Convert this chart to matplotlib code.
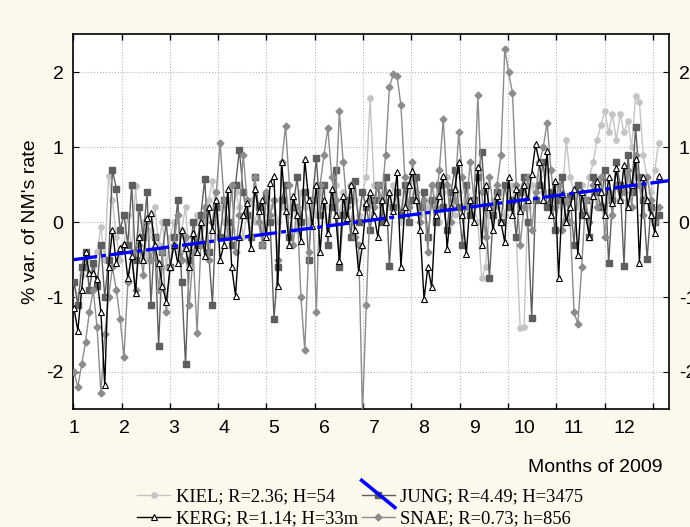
"""
nm_rates_2009.py  -  Daily % variation of neutron monitor count rates, 2009.

Four stations (KIEL, KERG, JUNG, SNAE) plus the linear trend of the pooled data.
"""

import matplotlib
matplotlib.use("Agg")
import matplotlib.pyplot as plt
import numpy as np
from matplotlib.legend_handler import HandlerBase, HandlerTuple
from matplotlib.lines import Line2D


# values sampled every 1/13 month (one row per month, Jan .. Dec)
kiel = [
    -0.8, -1.0, -0.7, -0.5, -0.9, -0.6, -0.4, -0.06, -0.5, 0.62, 0.3, -0.2, -0.5,
    -0.3, 0.1, -0.4, 0.48, -0.2, 0.0, -0.5, -0.1, 0.2, -0.3, 0.0, -0.6, -0.2,
    0.0, -0.4, -0.1, 0.2, -0.5, -0.2, 0.1, -0.3, 0.0, 0.3, 0.55, 0.1, 0.2,
    0.0, 0.3, -0.1, 0.4, 0.2, -0.2, 0.1, 0.3, 0.0, 0.2, -0.1, 0.4, 0.2,
    0.3, 0.0, 0.2, 0.5, 0.1, 0.3, -0.1, 0.4, 0.2, 0.0, 0.3, 0.1, 0.4,
    0.2, 0.0, 0.3, 0.5, 0.1, 0.4, 0.2, 0.0, 0.3, 0.1, 0.4, 0.6, 1.66,
    0.5, 0.3, 0.1, 0.4, 0.2, 0.5, 0.3, 0.0, 0.4, 0.2, 0.6, 0.3, 0.1,
    0.4, 0.2, 0.5, 0.3, 0.0, 0.4, 0.6, 0.3, 0.1, 0.4, 0.2, 0.5, 0.3,
    0.2, 0.0, -0.75, -0.6, 0.1, 0.3, 0.2, 0.4, 0.1, 0.3, 0.5, -0.2, -1.41,
    -1.4, 0.2, 0.5, 0.3, 0.6, 0.4, 0.7, 0.2, 0.5, 0.3, 0.4, 1.1, 0.6,
    0.4, 0.2, 0.5, 0.3, 0.6, 0.8, 1.1, 1.3, 1.48, 1.2, 1.44, 1.1, 1.44,
    1.2, 1.35, 1.0, 1.69, 1.6, 0.9, 0.6, 0.4, 0.7, 1.06,
]
kerg = [
    -1.15, -1.45, -0.9, -0.4, -0.68, -0.68, -0.76, -1.2, -2.18, -0.6, -0.1, -0.55, -0.35,
    -0.29, -0.75, -0.45, -0.95, -0.2, -0.5, 0.05, 0.12, -0.3, -0.55, -0.85, -1.07, -0.6,
    -0.3, -0.55, -0.1, -0.35, -0.6, -0.15, -0.4, 0.0, -0.45, 0.2, -0.1, 0.3, -0.5,
    -0.3, 0.45, -0.6, -0.98, -0.2, 0.1, 0.25, -0.35, 0.45, 0.15, 0.3, -0.2, 0.52,
    0.62, -0.85, 0.8, 0.15, -0.3, 0.35, 0.1, -0.25, 0.84, 0.3, -0.05, 0.5, -0.4,
    0.3, -0.15, 0.45, 0.1, -0.52, 0.35, 0.05, 0.5, -0.1, -0.66, -0.3, 0.25, 0.4,
    0.1, -0.2, 0.3, 0.0, 0.4, 0.15, 0.67, -0.6, 0.2, 0.5, 0.68, 0.3, -0.1,
    -1.03, -0.6, -0.87, 0.1, 0.35, 0.62, -0.36, 0.2, 0.45, 0.8, 0.1, -0.43, 0.3,
    0.0, 0.74, -0.3, 0.5, 0.2, -0.1, 0.35, 0.0, -0.27, 0.6, 0.1, 0.45, 0.15,
    0.5, 0.3, 0.65, 1.04, 0.8, 0.3, 0.95, 0.1, 0.55, -0.74, 0.38, 0.0, 0.2,
    0.45, -0.44, 0.4, 0.1, -0.2, 0.35, 0.55, 0.4, 0.1, 0.6, 0.25, 0.72, 0.3,
    0.76, 0.2, 0.5, 0.85, -0.54, 0.6, 0.3, 0.1, -0.15, 0.62,
]
jung = [
    -0.8, -1.1, -0.6, -0.4, -0.9, -0.55, -0.85, -0.3, -1.0, -0.5, 0.7, 0.45, -0.1,
    0.1, -0.3, 0.5, -0.5, 0.2, -0.2, 0.4, -1.1, -0.2, -1.65, -0.4, 0.0, -0.6,
    -0.2, 0.3, -0.8, -1.9, -0.5, 0.0, -0.3, 0.1, 0.58, -0.4, -1.1, 0.2, -0.2,
    0.3, 0.0, -0.3, 0.5, 0.97, 0.4, 0.1, -0.2, 0.6, 0.2, -0.3, 0.35, 0.0,
    -1.29, -0.6, 0.3, 0.5, -0.2, 0.2, 0.6, 0.0, 0.4, -0.5, 0.3, 0.86, 0.1,
    0.5, -0.3, 0.2, 0.7, -0.6, 0.1, 0.3, -0.2, 0.55, 0.0, 0.4, 0.2, -0.1,
    0.3, 0.5, 0.0, 0.6, -0.58, 0.2, 0.4, 0.1, 0.5, 0.0, 0.3, 0.6, 0.2,
    0.4, -0.2, 0.3, 0.0, 0.5, 0.2, -0.1, 0.4, 0.7, 0.2, -0.3, 0.5, 0.1,
    0.3, 0.6, 0.94, 0.2, -0.75, 0.1, 0.4, 0.0, 0.5, 0.2, 0.3, -0.2, 0.4,
    0.6, 0.0, -1.28, 0.3, 0.5, 0.8, 0.2, 0.4, -0.1, 0.3, 0.6, 0.0, 0.35,
    -0.3, 0.5, 0.1, 0.3, -0.2, 0.6, 0.4, 0.2, 0.7, -0.55, 0.3, 0.8, 0.5,
    -0.58, 0.9, 0.4, 1.27, 0.6, 0.3, -0.49, 0.2, 0.0, 0.1,
]
snae = [
    -2.0, -2.2, -1.9, -1.6, -1.2, -0.9, -1.4, -2.28, -1.5, -1.0, -0.6, -0.9, -1.3,
    -1.8, -0.8, -0.4, -0.9, -0.3, -0.7, 0.0, -0.5, -0.2, -0.9, -0.4, -1.2, -0.6,
    -0.3, 0.1, -0.5, -0.2, -1.1, -0.4, -1.48, -0.3, 0.2, -0.5, 0.0, 0.4, 1.06,
    0.3, -0.2, 0.5, -0.4, 0.1, 0.9, 0.3, -0.2, 0.6, 0.0, -0.3, 0.4, 0.1,
    0.3, -0.5, 0.8, 1.29, 0.5, -0.3, 0.2, -1.0, -1.71, -0.4, 0.3, -1.2, 0.5,
    0.9, 1.26, 0.6, 0.3, 1.48, 0.8, 0.2, 0.5, -0.2, -0.3, -2.55, -1.1, 0.3,
    0.2, 0.5, 0.3, 0.9, 1.8, 1.98, 1.95, 1.56, 0.6, 0.2, 0.8, 0.4, 0.0,
    0.3, -0.4, 0.5, 0.2, 0.7, 1.38, 0.5, 0.0, 0.3, 1.2, 0.6, 0.2, 0.8,
    0.3, 1.7, 0.4, -0.2, 0.6, 0.2, 0.5, 0.9, 2.31, 2.0, 1.73, 0.5, -0.3,
    0.2, 0.6, -0.1, 0.4, 0.8, 1.0, 1.33, 0.7, 0.2, 0.5, -0.1, 0.3, 0.0,
    -1.2, -1.36, -0.6, 0.3, 0.0, 0.5, 0.2, 0.6, -0.2, 0.4, 0.1, 0.5, 0.3,
    0.4, 0.7, 0.2, 0.9, 0.5, 0.1, 0.6, 0.3, 0.0, 0.2,
]

# linear trend of the pooled stations (end points)
trend_x = [1.0, 12.9]
trend_y = [-0.5, 0.555]

labels = [
    "KIEL; R=2.36; H=54",
    "KERG; R=1.14; H=33m",
    "JUNG; R=4.49; H=3475",
    "SNAE; R=0.73; h=856",
]
month_ticks = list(range(1, 13))

BG = "#fdf8ec"
SANS = "Liberation Sans"
SERIF = "Liberation Serif"

plt.rcParams["axes.unicode_minus"] = False


class DiagonalHandler(HandlerBase):
    """Blue slanted stroke drawn across the JUNG legend key."""

    def create_artists(self, legend, orig_handle, xdescent, ydescent,
                       width, height, fontsize, trans):
        line = Line2D([-xdescent, width - xdescent],
                      [1.6 * height - ydescent, -0.5 * height - ydescent],
                      color="#0000ff", lw=2.6, transform=trans)
        return [line]


fig = plt.figure(figsize=(6.9, 5.27), dpi=100, facecolor=BG)
ax = fig.add_axes([0.1062, 0.2233, 0.8634, 0.7116])
ax.set_facecolor("white")

x = 1 + np.arange(len(kerg)) / 13.0

h_kiel, = ax.plot(x, kiel, "-o", color="#c4c4c4", lw=1.0, ms=3.8,
                  mec="#c4c4c4", zorder=2)
h_jung, = ax.plot(x, jung, "-s", color="#5e5e5e", lw=1.0, ms=4.0,
                  mec="#5e5e5e", zorder=3)
h_snae, = ax.plot(x, snae, "-D", color="#8c8c8c", lw=1.0, ms=3.5,
                  mec="#8c8c8c", zorder=4)
h_kerg, = ax.plot(x, kerg, "-^", color="black", lw=1.0, ms=4.8,
                  mfc="white", mec="black", mew=0.8, zorder=5)
ax.plot(trend_x, trend_y, color="#0000ff", lw=2.4,
        ls=(0, (7, 1.2, 1.5, 1.2)), zorder=6)

ax.set_xlim(0.986, 12.9)
ax.set_ylim(-2.5, 2.51)

# month labels sit on their own positions, grid/tick marks on an even 13-step
grid_x = 0.986 + 0.966 * np.arange(13)
ax.set_xticks(month_ticks)
ax.set_xticks(grid_x, minor=True)
ax.set_yticks([-2, -1, 0, 1, 2])
ax.tick_params(axis="x", which="major", length=0, pad=8, labelsize=14)
ax.tick_params(axis="x", which="minor", direction="in", length=4,
               top=True, bottom=True, width=1)
ax.tick_params(axis="y", direction="in", length=4, left=True, right=True,
               labelleft=True, labelright=True, pad=7, labelsize=14)
for lab in ax.get_xticklabels() + ax.get_yticklabels():
    lab.set_family(SANS)

ax.grid(False)
ax.grid(True, which="minor", axis="x", ls=":", color="#b8b8b8", lw=0.8)
ax.grid(True, which="major", axis="y", ls=":", color="#b8b8b8", lw=0.8)
for sp in ax.spines.values():
    sp.set_linewidth(1.2)

ax.set_ylabel("% var. of NM's rate", family=SANS, fontsize=14, labelpad=5)
fig.text(0.96, 1 - 468 / 527, "Months of 2009", family=SANS, fontsize=14,
         ha="right", va="center")

diag = object()
handles = [h_kiel, h_kerg, (h_jung, diag), h_snae]
leg = fig.legend(handles, labels, ncol=2, loc="upper left",
                 bbox_to_anchor=(137 / 690, 1 - 488 / 527),
                 frameon=False, borderpad=0, borderaxespad=0,
                 handlelength=1.8, handletextpad=0.3, columnspacing=0.2,
                 labelspacing=0.32,
                 prop={"family": SERIF, "size": 13.3},
                 handler_map={tuple: HandlerTuple(ndivide=1),
                              diag: DiagonalHandler()})

fig.savefig("out.png", dpi=100, facecolor=BG)
